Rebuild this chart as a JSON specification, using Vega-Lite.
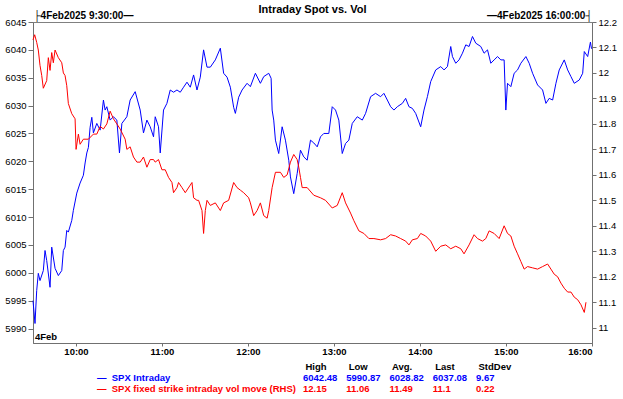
{
  "$schema": "https://vega.github.io/schema/vega-lite/v6.json",
  "padding": {"left": 4, "top": 3, "right": 6, "bottom": 2},
  "spacing": 5,
  "config": {
    "font": "Liberation Sans, Arial, sans-serif",
    "view": {"stroke": "#808080", "strokeWidth": 1},
    "axis": {"grid": false, "domainColor": "#707070", "tickColor": "#707070", "labelColor": "#000000", "labelFont": "Liberation Sans, Arial, sans-serif"},
    "text": {"font": "Liberation Sans, Arial, sans-serif"}
  },
  "datasets": {
    "spx": [
      {"time": "2025-02-04T09:30:00", "spx": 5995.0},
      {"time": "2025-02-04T09:31:24", "spx": 5990.9},
      {"time": "2025-02-04T09:32:35", "spx": 5996.8},
      {"time": "2025-02-04T09:33:42", "spx": 5999.9},
      {"time": "2025-02-04T09:34:53", "spx": 5998.6},
      {"time": "2025-02-04T09:37:12", "spx": 6000.4},
      {"time": "2025-02-04T09:38:23", "spx": 6004.0},
      {"time": "2025-02-04T09:39:34", "spx": 6002.2},
      {"time": "2025-02-04T09:41:53", "spx": 5997.4},
      {"time": "2025-02-04T09:43:04", "spx": 6004.6},
      {"time": "2025-02-04T09:45:23", "spx": 6000.8},
      {"time": "2025-02-04T09:47:41", "spx": 5999.5},
      {"time": "2025-02-04T09:50:04", "spx": 6000.4},
      {"time": "2025-02-04T09:51:11", "spx": 6004.0},
      {"time": "2025-02-04T09:52:22", "spx": 6004.6},
      {"time": "2025-02-04T09:53:33", "spx": 6007.6},
      {"time": "2025-02-04T09:54:40", "spx": 6007.3},
      {"time": "2025-02-04T09:57:03", "spx": 6009.4},
      {"time": "2025-02-04T09:58:10", "spx": 6011.2},
      {"time": "2025-02-04T10:00:33", "spx": 6014.3},
      {"time": "2025-02-04T10:02:51", "spx": 6016.1},
      {"time": "2025-02-04T10:05:09", "spx": 6017.5},
      {"time": "2025-02-04T10:06:21", "spx": 6019.7},
      {"time": "2025-02-04T10:07:32", "spx": 6021.5},
      {"time": "2025-02-04T10:08:39", "spx": 6022.5},
      {"time": "2025-02-04T10:09:50", "spx": 6026.1},
      {"time": "2025-02-04T10:11:02", "spx": 6027.9},
      {"time": "2025-02-04T10:12:09", "spx": 6025.1},
      {"time": "2025-02-04T10:14:31", "spx": 6026.8},
      {"time": "2025-02-04T10:16:50", "spx": 6025.6},
      {"time": "2025-02-04T10:19:08", "spx": 6031.0},
      {"time": "2025-02-04T10:20:19", "spx": 6029.2},
      {"time": "2025-02-04T10:21:31", "spx": 6029.8},
      {"time": "2025-02-04T10:23:49", "spx": 6027.4},
      {"time": "2025-02-04T10:26:07", "spx": 6028.0},
      {"time": "2025-02-04T10:28:30", "spx": 6027.4},
      {"time": "2025-02-04T10:30:19", "spx": 6021.5},
      {"time": "2025-02-04T10:32:00", "spx": 6026.8},
      {"time": "2025-02-04T10:35:29", "spx": 6028.0},
      {"time": "2025-02-04T10:37:47", "spx": 6031.0},
      {"time": "2025-02-04T10:41:17", "spx": 6032.5},
      {"time": "2025-02-04T10:44:47", "spx": 6029.2},
      {"time": "2025-02-04T10:47:05", "spx": 6025.1},
      {"time": "2025-02-04T10:49:28", "spx": 6027.4},
      {"time": "2025-02-04T10:51:46", "spx": 6026.2},
      {"time": "2025-02-04T10:54:05", "spx": 6024.4},
      {"time": "2025-02-04T10:55:16", "spx": 6028.0},
      {"time": "2025-02-04T10:57:34", "spx": 6026.2},
      {"time": "2025-02-04T10:58:46", "spx": 6021.5},
      {"time": "2025-02-04T11:01:04", "spx": 6029.2},
      {"time": "2025-02-04T11:03:26", "spx": 6030.4},
      {"time": "2025-02-04T11:05:45", "spx": 6032.8},
      {"time": "2025-02-04T11:08:03", "spx": 6032.4},
      {"time": "2025-02-04T11:10:26", "spx": 6032.8},
      {"time": "2025-02-04T11:12:44", "spx": 6032.4},
      {"time": "2025-02-04T11:15:03", "spx": 6033.3},
      {"time": "2025-02-04T11:17:25", "spx": 6034.2},
      {"time": "2025-02-04T11:19:44", "spx": 6033.3},
      {"time": "2025-02-04T11:22:02", "spx": 6035.5},
      {"time": "2025-02-04T11:24:25", "spx": 6032.8},
      {"time": "2025-02-04T11:26:43", "spx": 6035.1},
      {"time": "2025-02-04T11:29:01", "spx": 6040.0},
      {"time": "2025-02-04T11:31:24", "spx": 6036.9},
      {"time": "2025-02-04T11:33:43", "spx": 6036.9},
      {"time": "2025-02-04T11:37:12", "spx": 6038.2},
      {"time": "2025-02-04T11:40:42", "spx": 6040.3},
      {"time": "2025-02-04T11:43:00", "spx": 6035.8},
      {"time": "2025-02-04T11:45:23", "spx": 6035.1},
      {"time": "2025-02-04T11:47:41", "spx": 6033.3},
      {"time": "2025-02-04T11:49:59", "spx": 6029.7},
      {"time": "2025-02-04T11:51:11", "spx": 6028.6},
      {"time": "2025-02-04T11:53:29", "spx": 6031.5},
      {"time": "2025-02-04T11:55:52", "spx": 6032.8},
      {"time": "2025-02-04T11:59:22", "spx": 6034.0},
      {"time": "2025-02-04T12:01:40", "spx": 6033.4},
      {"time": "2025-02-04T12:05:10", "spx": 6035.8},
      {"time": "2025-02-04T12:08:39", "spx": 6034.0},
      {"time": "2025-02-04T12:10:58", "spx": 6035.2},
      {"time": "2025-02-04T12:14:28", "spx": 6035.8},
      {"time": "2025-02-04T12:16:08", "spx": 6034.9},
      {"time": "2025-02-04T12:16:50", "spx": 6029.2},
      {"time": "2025-02-04T12:17:57", "spx": 6027.4},
      {"time": "2025-02-04T12:19:08", "spx": 6023.8},
      {"time": "2025-02-04T12:21:26", "spx": 6021.4},
      {"time": "2025-02-04T12:23:49", "spx": 6026.2},
      {"time": "2025-02-04T12:26:07", "spx": 6023.8},
      {"time": "2025-02-04T12:28:26", "spx": 6020.2},
      {"time": "2025-02-04T12:29:37", "spx": 6017.2},
      {"time": "2025-02-04T12:31:55", "spx": 6014.2},
      {"time": "2025-02-04T12:34:18", "spx": 6017.8},
      {"time": "2025-02-04T12:36:37", "spx": 6022.0},
      {"time": "2025-02-04T12:38:55", "spx": 6020.8},
      {"time": "2025-02-04T12:41:17", "spx": 6020.2},
      {"time": "2025-02-04T12:43:36", "spx": 6023.8},
      {"time": "2025-02-04T12:45:54", "spx": 6023.3},
      {"time": "2025-02-04T12:48:17", "spx": 6022.6},
      {"time": "2025-02-04T12:50:35", "spx": 6024.4},
      {"time": "2025-02-04T12:52:53", "spx": 6025.0},
      {"time": "2025-02-04T12:56:23", "spx": 6025.0},
      {"time": "2025-02-04T12:58:46", "spx": 6029.8},
      {"time": "2025-02-04T13:01:04", "spx": 6029.2},
      {"time": "2025-02-04T13:03:22", "spx": 6027.4},
      {"time": "2025-02-04T13:05:45", "spx": 6021.4},
      {"time": "2025-02-04T13:08:04", "spx": 6023.2},
      {"time": "2025-02-04T13:10:22", "spx": 6023.8},
      {"time": "2025-02-04T13:12:44", "spx": 6026.8},
      {"time": "2025-02-04T13:16:14", "spx": 6028.0},
      {"time": "2025-02-04T13:19:44", "spx": 6027.4},
      {"time": "2025-02-04T13:22:02", "spx": 6028.6},
      {"time": "2025-02-04T13:25:32", "spx": 6031.6},
      {"time": "2025-02-04T13:29:01", "spx": 6032.2},
      {"time": "2025-02-04T13:32:31", "spx": 6031.6},
      {"time": "2025-02-04T13:34:49", "spx": 6032.2},
      {"time": "2025-02-04T13:37:12", "spx": 6031.0},
      {"time": "2025-02-04T13:39:31", "spx": 6029.8},
      {"time": "2025-02-04T13:41:49", "spx": 6029.2},
      {"time": "2025-02-04T13:44:11", "spx": 6029.8},
      {"time": "2025-02-04T13:47:41", "spx": 6030.4},
      {"time": "2025-02-04T13:49:59", "spx": 6031.3},
      {"time": "2025-02-04T13:52:18", "spx": 6029.8},
      {"time": "2025-02-04T13:54:40", "spx": 6029.5},
      {"time": "2025-02-04T13:56:59", "spx": 6028.6},
      {"time": "2025-02-04T14:00:29", "spx": 6026.2},
      {"time": "2025-02-04T14:02:47", "spx": 6029.2},
      {"time": "2025-02-04T14:05:10", "spx": 6031.6},
      {"time": "2025-02-04T14:07:28", "spx": 6034.3},
      {"time": "2025-02-04T14:10:58", "spx": 6036.4},
      {"time": "2025-02-04T14:14:28", "spx": 6037.0},
      {"time": "2025-02-04T14:16:46", "spx": 6036.4},
      {"time": "2025-02-04T14:19:08", "spx": 6037.0},
      {"time": "2025-02-04T14:21:27", "spx": 6040.6},
      {"time": "2025-02-04T14:22:38", "spx": 6038.8},
      {"time": "2025-02-04T14:24:56", "spx": 6037.6},
      {"time": "2025-02-04T14:27:15", "spx": 6038.2},
      {"time": "2025-02-04T14:29:37", "spx": 6039.4},
      {"time": "2025-02-04T14:31:56", "spx": 6040.9},
      {"time": "2025-02-04T14:34:14", "spx": 6040.6},
      {"time": "2025-02-04T14:36:37", "spx": 6042.4},
      {"time": "2025-02-04T14:38:55", "spx": 6041.2},
      {"time": "2025-02-04T14:42:25", "spx": 6040.6},
      {"time": "2025-02-04T14:44:43", "spx": 6039.4},
      {"time": "2025-02-04T14:47:06", "spx": 6040.0},
      {"time": "2025-02-04T14:49:24", "spx": 6037.6},
      {"time": "2025-02-04T14:51:43", "spx": 6038.2},
      {"time": "2025-02-04T14:54:05", "spx": 6038.8},
      {"time": "2025-02-04T14:56:23", "spx": 6038.2},
      {"time": "2025-02-04T14:58:42", "spx": 6038.2},
      {"time": "2025-02-04T14:59:53", "spx": 6029.2},
      {"time": "2025-02-04T15:01:04", "spx": 6034.0},
      {"time": "2025-02-04T15:03:23", "spx": 6033.4},
      {"time": "2025-02-04T15:05:41", "spx": 6035.8},
      {"time": "2025-02-04T15:08:04", "spx": 6036.4},
      {"time": "2025-02-04T15:10:22", "spx": 6037.6},
      {"time": "2025-02-04T15:13:52", "spx": 6038.8},
      {"time": "2025-02-04T15:16:10", "spx": 6037.6},
      {"time": "2025-02-04T15:18:33", "spx": 6035.8},
      {"time": "2025-02-04T15:22:02", "spx": 6033.7},
      {"time": "2025-02-04T15:25:32", "spx": 6032.8},
      {"time": "2025-02-04T15:27:51", "spx": 6030.4},
      {"time": "2025-02-04T15:30:09", "spx": 6031.3},
      {"time": "2025-02-04T15:32:32", "spx": 6031.0},
      {"time": "2025-02-04T15:34:50", "spx": 6034.0},
      {"time": "2025-02-04T15:37:08", "spx": 6036.4},
      {"time": "2025-02-04T15:40:38", "spx": 6038.2},
      {"time": "2025-02-04T15:43:01", "spx": 6036.4},
      {"time": "2025-02-04T15:45:19", "spx": 6035.2},
      {"time": "2025-02-04T15:47:37", "spx": 6034.0},
      {"time": "2025-02-04T15:51:07", "spx": 6034.6},
      {"time": "2025-02-04T15:53:30", "spx": 6035.8},
      {"time": "2025-02-04T15:54:37", "spx": 6039.7},
      {"time": "2025-02-04T15:56:59", "spx": 6038.8},
      {"time": "2025-02-04T15:58:54", "spx": 6041.4},
      {"time": "2025-02-04T15:59:40", "spx": 6040.2}
    ],
    "vol": [
      {"time": "2025-02-04T09:30:00", "vol": 12.13},
      {"time": "2025-02-04T09:31:10", "vol": 12.15},
      {"time": "2025-02-04T09:32:35", "vol": 12.12},
      {"time": "2025-02-04T09:33:42", "vol": 12.09},
      {"time": "2025-02-04T09:34:53", "vol": 12.03},
      {"time": "2025-02-04T09:36:05", "vol": 11.99},
      {"time": "2025-02-04T09:37:12", "vol": 11.94},
      {"time": "2025-02-04T09:39:34", "vol": 11.97},
      {"time": "2025-02-04T09:40:42", "vol": 12.06},
      {"time": "2025-02-04T09:41:53", "vol": 12.01},
      {"time": "2025-02-04T09:43:04", "vol": 12.08},
      {"time": "2025-02-04T09:44:11", "vol": 12.04},
      {"time": "2025-02-04T09:45:23", "vol": 12.09},
      {"time": "2025-02-04T09:47:41", "vol": 12.06},
      {"time": "2025-02-04T09:50:04", "vol": 12.04},
      {"time": "2025-02-04T09:51:11", "vol": 12.00},
      {"time": "2025-02-04T09:52:22", "vol": 11.99},
      {"time": "2025-02-04T09:53:33", "vol": 11.95},
      {"time": "2025-02-04T09:54:40", "vol": 11.88},
      {"time": "2025-02-04T09:57:03", "vol": 11.84},
      {"time": "2025-02-04T09:59:22", "vol": 11.82},
      {"time": "2025-02-04T10:00:03", "vol": 11.70},
      {"time": "2025-02-04T10:01:40", "vol": 11.76},
      {"time": "2025-02-04T10:02:51", "vol": 11.72},
      {"time": "2025-02-04T10:05:09", "vol": 11.74},
      {"time": "2025-02-04T10:08:39", "vol": 11.74},
      {"time": "2025-02-04T10:12:09", "vol": 11.76},
      {"time": "2025-02-04T10:14:31", "vol": 11.76},
      {"time": "2025-02-04T10:16:50", "vol": 11.79},
      {"time": "2025-02-04T10:19:08", "vol": 11.78},
      {"time": "2025-02-04T10:21:31", "vol": 11.80},
      {"time": "2025-02-04T10:23:49", "vol": 11.85},
      {"time": "2025-02-04T10:26:07", "vol": 11.82},
      {"time": "2025-02-04T10:28:30", "vol": 11.80},
      {"time": "2025-02-04T10:30:48", "vol": 11.78},
      {"time": "2025-02-04T10:34:18", "vol": 11.74},
      {"time": "2025-02-04T10:35:29", "vol": 11.70},
      {"time": "2025-02-04T10:37:47", "vol": 11.71},
      {"time": "2025-02-04T10:40:06", "vol": 11.67},
      {"time": "2025-02-04T10:42:29", "vol": 11.65},
      {"time": "2025-02-04T10:44:47", "vol": 11.65},
      {"time": "2025-02-04T10:47:05", "vol": 11.67},
      {"time": "2025-02-04T10:49:28", "vol": 11.63},
      {"time": "2025-02-04T10:51:46", "vol": 11.66},
      {"time": "2025-02-04T10:54:05", "vol": 11.66},
      {"time": "2025-02-04T10:55:16", "vol": 11.65},
      {"time": "2025-02-04T10:57:34", "vol": 11.66},
      {"time": "2025-02-04T10:59:57", "vol": 11.62},
      {"time": "2025-02-04T11:02:15", "vol": 11.62},
      {"time": "2025-02-04T11:04:34", "vol": 11.59},
      {"time": "2025-02-04T11:06:56", "vol": 11.57},
      {"time": "2025-02-04T11:08:03", "vol": 11.53},
      {"time": "2025-02-04T11:10:26", "vol": 11.55},
      {"time": "2025-02-04T11:11:33", "vol": 11.57},
      {"time": "2025-02-04T11:13:56", "vol": 11.55},
      {"time": "2025-02-04T11:16:14", "vol": 11.53},
      {"time": "2025-02-04T11:19:44", "vol": 11.56},
      {"time": "2025-02-04T11:20:55", "vol": 11.57},
      {"time": "2025-02-04T11:22:02", "vol": 11.51},
      {"time": "2025-02-04T11:24:25", "vol": 11.50},
      {"time": "2025-02-04T11:25:32", "vol": 11.50},
      {"time": "2025-02-04T11:27:54", "vol": 11.46},
      {"time": "2025-02-04T11:29:01", "vol": 11.37},
      {"time": "2025-02-04T11:30:13", "vol": 11.46},
      {"time": "2025-02-04T11:31:24", "vol": 11.50},
      {"time": "2025-02-04T11:33:43", "vol": 11.48},
      {"time": "2025-02-04T11:37:12", "vol": 11.49},
      {"time": "2025-02-04T11:40:42", "vol": 11.46},
      {"time": "2025-02-04T11:43:00", "vol": 11.49},
      {"time": "2025-02-04T11:46:30", "vol": 11.50},
      {"time": "2025-02-04T11:49:59", "vol": 11.57},
      {"time": "2025-02-04T11:52:22", "vol": 11.55},
      {"time": "2025-02-04T11:54:40", "vol": 11.54},
      {"time": "2025-02-04T11:56:59", "vol": 11.53},
      {"time": "2025-02-04T12:00:28", "vol": 11.51},
      {"time": "2025-02-04T12:01:40", "vol": 11.49},
      {"time": "2025-02-04T12:03:58", "vol": 11.44},
      {"time": "2025-02-04T12:06:21", "vol": 11.46},
      {"time": "2025-02-04T12:08:39", "vol": 11.49},
      {"time": "2025-02-04T12:10:58", "vol": 11.44},
      {"time": "2025-02-04T12:13:20", "vol": 11.43},
      {"time": "2025-02-04T12:14:28", "vol": 11.46},
      {"time": "2025-02-04T12:16:50", "vol": 11.55},
      {"time": "2025-02-04T12:19:08", "vol": 11.61},
      {"time": "2025-02-04T12:22:38", "vol": 11.61},
      {"time": "2025-02-04T12:24:56", "vol": 11.59},
      {"time": "2025-02-04T12:27:19", "vol": 11.60},
      {"time": "2025-02-04T12:29:37", "vol": 11.65},
      {"time": "2025-02-04T12:31:55", "vol": 11.68},
      {"time": "2025-02-04T12:34:18", "vol": 11.66},
      {"time": "2025-02-04T12:35:25", "vol": 11.63},
      {"time": "2025-02-04T12:36:37", "vol": 11.59},
      {"time": "2025-02-04T12:37:48", "vol": 11.55},
      {"time": "2025-02-04T12:41:17", "vol": 11.55},
      {"time": "2025-02-04T12:45:54", "vol": 11.52},
      {"time": "2025-02-04T12:50:35", "vol": 11.51},
      {"time": "2025-02-04T12:54:05", "vol": 11.50},
      {"time": "2025-02-04T12:58:46", "vol": 11.47},
      {"time": "2025-02-04T13:02:16", "vol": 11.48},
      {"time": "2025-02-04T13:05:45", "vol": 11.53},
      {"time": "2025-02-04T13:08:04", "vol": 11.49},
      {"time": "2025-02-04T13:11:33", "vol": 11.45},
      {"time": "2025-02-04T13:13:52", "vol": 11.42},
      {"time": "2025-02-04T13:17:22", "vol": 11.38},
      {"time": "2025-02-04T13:20:51", "vol": 11.37},
      {"time": "2025-02-04T13:24:21", "vol": 11.35},
      {"time": "2025-02-04T13:27:50", "vol": 11.35},
      {"time": "2025-02-04T13:32:31", "vol": 11.345},
      {"time": "2025-02-04T13:36:01", "vol": 11.35},
      {"time": "2025-02-04T13:39:31", "vol": 11.365},
      {"time": "2025-02-04T13:43:00", "vol": 11.36},
      {"time": "2025-02-04T13:46:30", "vol": 11.35},
      {"time": "2025-02-04T13:49:59", "vol": 11.34},
      {"time": "2025-02-04T13:52:18", "vol": 11.325},
      {"time": "2025-02-04T13:54:40", "vol": 11.345},
      {"time": "2025-02-04T13:58:10", "vol": 11.35},
      {"time": "2025-02-04T14:00:29", "vol": 11.37},
      {"time": "2025-02-04T14:03:58", "vol": 11.36},
      {"time": "2025-02-04T14:07:28", "vol": 11.34},
      {"time": "2025-02-04T14:10:58", "vol": 11.30},
      {"time": "2025-02-04T14:14:28", "vol": 11.32},
      {"time": "2025-02-04T14:17:57", "vol": 11.325},
      {"time": "2025-02-04T14:21:27", "vol": 11.31},
      {"time": "2025-02-04T14:24:56", "vol": 11.32},
      {"time": "2025-02-04T14:28:26", "vol": 11.31},
      {"time": "2025-02-04T14:30:44", "vol": 11.29},
      {"time": "2025-02-04T14:34:14", "vol": 11.325},
      {"time": "2025-02-04T14:37:44", "vol": 11.365},
      {"time": "2025-02-04T14:40:07", "vol": 11.35},
      {"time": "2025-02-04T14:43:36", "vol": 11.34},
      {"time": "2025-02-04T14:45:55", "vol": 11.35},
      {"time": "2025-02-04T14:48:13", "vol": 11.38},
      {"time": "2025-02-04T14:51:43", "vol": 11.37},
      {"time": "2025-02-04T14:55:13", "vol": 11.35},
      {"time": "2025-02-04T14:58:42", "vol": 11.40},
      {"time": "2025-02-04T15:01:04", "vol": 11.37},
      {"time": "2025-02-04T15:03:23", "vol": 11.36},
      {"time": "2025-02-04T15:05:41", "vol": 11.32},
      {"time": "2025-02-04T15:08:04", "vol": 11.29},
      {"time": "2025-02-04T15:10:22", "vol": 11.26},
      {"time": "2025-02-04T15:12:41", "vol": 11.23},
      {"time": "2025-02-04T15:15:03", "vol": 11.24},
      {"time": "2025-02-04T15:18:33", "vol": 11.235},
      {"time": "2025-02-04T15:22:02", "vol": 11.23},
      {"time": "2025-02-04T15:25:32", "vol": 11.24},
      {"time": "2025-02-04T15:29:02", "vol": 11.25},
      {"time": "2025-02-04T15:31:20", "vol": 11.23},
      {"time": "2025-02-04T15:33:39", "vol": 11.21},
      {"time": "2025-02-04T15:36:01", "vol": 11.20},
      {"time": "2025-02-04T15:38:20", "vol": 11.175},
      {"time": "2025-02-04T15:40:38", "vol": 11.155},
      {"time": "2025-02-04T15:43:01", "vol": 11.14},
      {"time": "2025-02-04T15:45:19", "vol": 11.14},
      {"time": "2025-02-04T15:47:37", "vol": 11.12},
      {"time": "2025-02-04T15:50:00", "vol": 11.11},
      {"time": "2025-02-04T15:52:19", "vol": 11.09},
      {"time": "2025-02-04T15:54:37", "vol": 11.06},
      {"time": "2025-02-04T15:55:48", "vol": 11.10}
    ],
    "stats": [
      {"series": "SPX Intraday", "high": 6042.48, "low": 5990.87, "avg": 6028.82, "last": 6037.08, "stdev": 9.67},
      {"series": "SPX fixed strike intraday vol move (RHS)", "high": 12.15, "low": 11.06, "avg": 11.49, "last": 11.1, "stdev": 0.22}
    ]
  },
  "vconcat": [
    {
      "width": 559,
      "height": 321,
      "title": {"text": "Intraday Spot vs. Vol", "fontSize": 11, "fontWeight": "bold", "font": "Liberation Sans, Arial, sans-serif", "offset": -5, "color": "#000000"},
      "layer": [
        {
          "data": {"name": "spx"},
          "mark": {"type": "line", "color": "#0000ff", "strokeWidth": 1},
          "encoding": {
            "x": {
              "field": "time", "type": "temporal",
              "scale": {"domain": [{"year": 2025, "month": 2, "date": 4, "hours": 9, "minutes": 30}, {"year": 2025, "month": 2, "date": 4, "hours": 16, "minutes": 0}]},
              "axis": {"orient": "bottom", "title": null, "format": "%H:%M", "tickSize": 3, "labelPadding": 0, "labelFontSize": 9.5, "labelFontWeight": "bold",
                "values": [
                  {"year": 2025, "month": 2, "date": 4, "hours": 10},
                  {"year": 2025, "month": 2, "date": 4, "hours": 11},
                  {"year": 2025, "month": 2, "date": 4, "hours": 12},
                  {"year": 2025, "month": 2, "date": 4, "hours": 13},
                  {"year": 2025, "month": 2, "date": 4, "hours": 14},
                  {"year": 2025, "month": 2, "date": 4, "hours": 15},
                  {"year": 2025, "month": 2, "date": 4, "hours": 16}
                ]}
            },
            "y": {
              "field": "spx", "type": "quantitative",
              "scale": {"domain": [5987.4, 6045], "nice": false, "zero": false},
              "axis": {"orient": "left", "title": null, "format": "d", "tickSize": 5, "labelPadding": 2, "labelFontSize": 9.5,
                "values": [5990, 5995, 6000, 6005, 6010, 6015, 6020, 6025, 6030, 6035, 6040, 6045]}
            }
          }
        },
        {
          "data": {"name": "vol"},
          "mark": {"type": "line", "color": "#ff0000", "strokeWidth": 1},
          "encoding": {
            "x": {"field": "time", "type": "temporal", "axis": null},
            "y": {
              "field": "vol", "type": "quantitative",
              "scale": {"domain": [10.94, 12.2], "nice": false, "zero": false},
              "axis": {"orient": "right", "title": null, "format": ".1~f", "tickSize": 4, "labelPadding": 2, "labelFontSize": 9.5,
                "values": [11, 11.1, 11.2, 11.3, 11.4, 11.5, 11.6, 11.7, 11.8, 11.9, 12, 12.1, 12.2]}
            }
          }
        },
        {
          "data": {"values": [{"label": "4Feb"}]},
          "mark": {"type": "text", "align": "left", "baseline": "bottom", "dx": 2, "dy": -1, "fontSize": 9.5, "fontWeight": "bold", "color": "#000000"},
          "encoding": {
            "x": {
              "datum": {"year": 2025, "month": 2, "date": 4, "hours": 9, "minutes": 30}, "type": "temporal",
              "axis": {"orient": "top", "title": null, "ticks": false, "domain": false, "labelFlush": true, "labelPadding": 2, "labelFontSize": 10, "labelFontWeight": "bold",
                "values": [{"year": 2025, "month": 2, "date": 4, "hours": 9, "minutes": 30}, {"year": 2025, "month": 2, "date": 4, "hours": 16, "minutes": 0}],
                "labelExpr": "hours(datum.value) < 12 ? '├4Feb2025 9:30:00—' : '—4Feb2025 16:00:00┤'"}
            },
            "y": {"datum": 5987.4, "type": "quantitative", "scale": {"domain": [5987.4, 6045], "nice": false, "zero": false}, "axis": null},
            "text": {"field": "label", "type": "nominal"}
          }
        }
      ],
      "resolve": {"scale": {"y": "independent"}, "axis": {"x": "independent"}}
    },
    {
      "width": 559,
      "height": 11,
      "data": {"name": "stats"},
      "view": {"stroke": null},
      "layer": [
        {
          "transform": [{"fold": ["high", "low", "avg", "last", "stdev"]}],
          "mark": {"type": "text", "align": "left", "baseline": "middle", "fontSize": 9.5, "fontWeight": "bold"},
          "encoding": {
            "x": {
              "field": "key", "type": "nominal",
              "scale": {"type": "point", "domain": ["high", "low", "avg", "last", "stdev"], "padding": 0, "range": [270, 443]},
              "axis": {"orient": "top", "title": null, "ticks": false, "domain": false, "labelAngle": 0, "labelAlign": "left", "labelOffset": 2, "labelPadding": 7, "labelFontSize": 9.5, "labelFontWeight": "bold",
                "labelExpr": "datum.value == 'high' ? 'High' : datum.value == 'low' ? 'Low' : datum.value == 'avg' ? 'Avg.' : datum.value == 'last' ? 'Last' : 'StdDev'"}
            },
            "y": {"field": "series", "type": "nominal", "scale": {"type": "point", "padding": 0, "domain": ["SPX Intraday", "SPX fixed strike intraday vol move (RHS)"]}, "axis": null},
            "text": {"field": "value", "type": "quantitative", "format": "~r"},
            "color": {"field": "series", "type": "nominal", "scale": {"domain": ["SPX Intraday", "SPX fixed strike intraday vol move (RHS)"], "range": ["#0000ff", "#ff0000"]}, "legend": null}
          }
        },
        {
          "mark": {"type": "text", "align": "left", "baseline": "middle", "fontSize": 9.5, "fontWeight": "bold"},
          "encoding": {
            "x": {"datum": "legendline", "type": "nominal", "scale": {"type": "point", "domain": ["legendline"], "align": 0.1145}, "axis": null},
            "y": {"field": "series", "type": "nominal", "axis": null},
            "text": {"value": "—"},
            "color": {"field": "series", "type": "nominal", "legend": null}
          }
        },
        {
          "mark": {"type": "text", "align": "left", "baseline": "middle", "fontSize": 9.5, "fontWeight": "bold"},
          "encoding": {
            "x": {"datum": "legendlabel", "type": "nominal", "scale": {"type": "point", "domain": ["legendlabel"], "align": 0.1408}, "axis": null},
            "y": {"field": "series", "type": "nominal", "axis": null},
            "text": {"field": "series", "type": "nominal"},
            "color": {"field": "series", "type": "nominal", "legend": null}
          }
        }
      ],
      "resolve": {"scale": {"x": "independent"}}
    }
  ]
}
